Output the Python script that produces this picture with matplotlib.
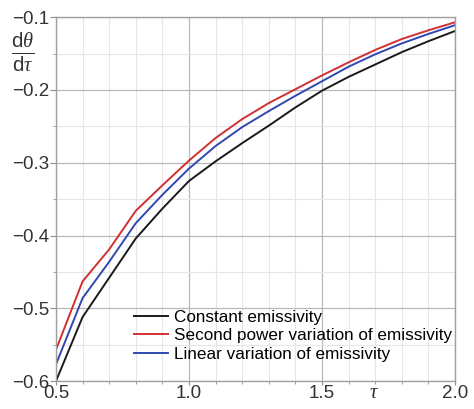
import matplotlib
matplotlib.use("Agg")
import matplotlib.pyplot as plt
from matplotlib.ticker import MultipleLocator, FuncFormatter

plt.rcParams['font.family'] = ['Liberation Sans', 'DejaVu Sans']
plt.rcParams['mathtext.fontset'] = 'custom'
plt.rcParams['mathtext.rm'] = 'Liberation Sans'
plt.rcParams['mathtext.it'] = 'Liberation Serif:italic'

tau = [0.5, 0.6, 0.7, 0.8, 0.9, 1.0, 1.1, 1.2, 1.3, 1.4, 1.5, 1.6, 1.7, 1.8, 1.9, 2.0]
constant = [-0.600, -0.512, -0.458, -0.404, -0.363, -0.325, -0.298, -0.273, -0.249,
            -0.224, -0.201, -0.182, -0.165, -0.148, -0.133, -0.119]
second_power = [-0.557, -0.463, -0.419, -0.366, -0.331, -0.297, -0.266, -0.240, -0.218,
                -0.199, -0.180, -0.162, -0.145, -0.130, -0.118, -0.107]
linear = [-0.577, -0.486, -0.436, -0.383, -0.344, -0.308, -0.277, -0.251, -0.229,
          -0.208, -0.188, -0.168, -0.151, -0.136, -0.123, -0.111]
labels = ["Constant emissivity", "Second power variation of emissivity",
          "Linear variation of emissivity"]

fig = plt.figure(figsize=(4.74, 4.09), dpi=100)
ax = fig.add_axes([0.118, 0.068, 0.842, 0.89])

ax.plot(tau, constant, color='#1a1a1a', lw=1.4, label=labels[0])
ax.plot(tau, second_power, color='#d03030', lw=1.4, label=labels[1])
ax.plot(tau, linear, color='#3048b0', lw=1.4, label=labels[2])

ax.set_xlim(0.5, 2.0)
ax.set_ylim(-0.6, -0.1)
ax.xaxis.set_major_locator(MultipleLocator(0.5))
ax.xaxis.set_minor_locator(MultipleLocator(0.1))
ax.yaxis.set_major_locator(MultipleLocator(0.1))
ax.yaxis.set_minor_locator(MultipleLocator(0.05))
fmt = FuncFormatter(lambda v, p: f"{v:.1f}".replace('-', '\u2212'))
ax.xaxis.set_major_formatter(fmt)
ax.yaxis.set_major_formatter(fmt)

ax.grid(which='major', color='#b8b8b8', lw=0.9)
ax.grid(which='minor', color='#e6e6e6', lw=0.8)
ax.set_axisbelow(True)
for s in ax.spines.values():
    s.set_color('#a0a0a0')
    s.set_linewidth(1.0)
ax.tick_params(which='major', direction='out', length=4, color='#909090',
               labelsize=13.5, labelcolor='#333333', pad=1)
ax.tick_params(axis='x', which='major', length=3, pad=0)
ax.tick_params(which='minor', direction='out', length=2.5, color='#909090')

fig.text(0.048, 0.873, r'$\frac{\mathrm{d}\theta}{\mathrm{d}\tau}$', fontsize=21,
         ha='center', va='center', color='#333333')
fig.text(0.79, 0.04, r'$\tau$', fontsize=15, ha='center', va='center', color='#333333')

ax.legend(loc='lower right', bbox_to_anchor=(1.01, 0.035), frameon=False,
          fontsize=12.3, handlelength=2.0, handletextpad=0.35, labelspacing=0.2,
          borderaxespad=0.0)

fig.savefig('out.png', dpi=100)
